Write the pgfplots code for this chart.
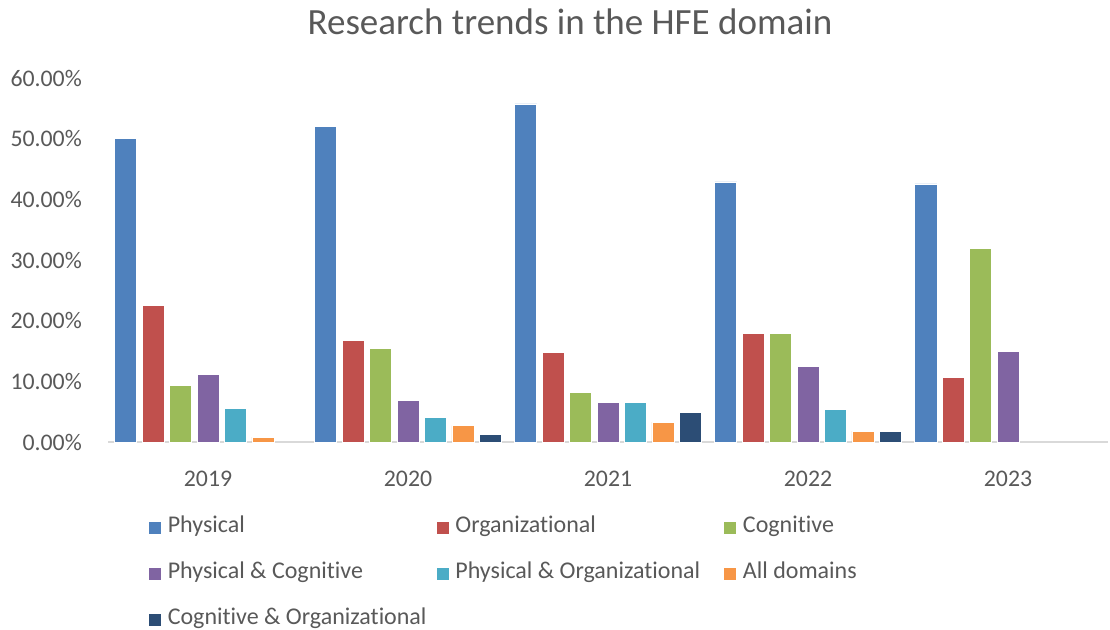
\documentclass[border=0pt]{standalone}
\usepackage{fontspec}
\setmainfont{Carlito}[Ligatures={NoCommon}]
\usepackage{pgfplots}
\pgfplotsset{compat=1.18}
\definecolor{c1}{HTML}{4F81BD}
\definecolor{c2}{HTML}{C0504D}
\definecolor{c3}{HTML}{9BBB59}
\definecolor{c4}{HTML}{8064A2}
\definecolor{c5}{HTML}{4BACC6}
\definecolor{c6}{HTML}{F79646}
\definecolor{c7}{HTML}{2C4D75}
\definecolor{txt}{HTML}{595959}
\definecolor{axl}{HTML}{D9D9D9}
\newcommand{\lt}[1]{\hspace{6pt}\makebox[268pt][l]{#1}}
\begin{document}
\begin{tikzpicture}[x=1pt,y=1pt]
\useasboundingbox (0,0) rectangle (1110,629);
\begin{axis}[
  at={(108pt,187pt)}, anchor=south west,
  scale only axis, width=1000pt, height=364pt,
  xmin=-0.5, xmax=4.5, ymin=0, ymax=60,
  axis x line*=bottom, axis y line*=left,
  x axis line style={draw=axl, line width=1.5pt},
  y axis line style={draw=none},
  tick style={draw=none},
  ybar=5.4pt, bar width=22pt,
  xtick={0,1,2,3,4}, xticklabels={2019,2020,2021,2022,2023},
  ytick={0,10,20,30,40,50,60},
  yticklabels={0.00\%,10.00\%,20.00\%,30.00\%,40.00\%,50.00\%,60.00\%},
  tick label style={font=\fontsize{23.8}{28}\selectfont, text=txt},
  yticklabel style={anchor=east, inner sep=0pt, xshift=-26pt},
  xticklabel style={anchor=center, inner sep=0pt, yshift=-33pt},
  clip=false,
  every axis plot/.append style={draw=white, line width=0.6pt},
  legend columns=3,
  legend style={at={(rel axis cs:0.04,-0.205)}, anchor=north west, draw=none,
    font=\fontsize{24}{28}\selectfont, text=txt, inner sep=0pt,
    nodes={inner sep=0pt, text height=16pt, text depth=5pt},
    row sep=25pt, column sep=0pt},
  legend image code/.code={\fill[#1] (0pt,-6.5pt) rectangle (13pt,6.5pt);},
]
\addplot[fill=c1] coordinates {(0,50.0) (1,52.0) (2,55.74) (3,42.86) (4,42.55)};
\addplot[fill=c2] coordinates {(0,22.5) (1,16.8) (2,14.75) (3,17.86) (4,10.64)};
\addplot[fill=c3] coordinates {(0,9.3) (1,15.4) (2,8.2) (3,17.86) (4,31.91)};
\addplot[fill=c4] coordinates {(0,11.2) (1,6.9) (2,6.56) (3,12.5) (4,14.89)};
\addplot[fill=c5] coordinates {(0,5.55) (1,4.1) (2,6.56) (3,5.36)};
\addplot[fill=c6] coordinates {(0,0.8) (1,2.7) (2,3.28) (3,1.79)};
\addplot[fill=c7] coordinates {(1,1.3) (2,4.92) (3,1.79)};
\legend{\lt{Physical},\lt{Organizational},\lt{Cognitive},\lt{Physical \& Cognitive},\lt{Physical \& Organizational},\lt{All domains},\lt{Cognitive \& Organizational}}
\node[font=\fontsize{37}{44}\selectfont, text=txt] at (rel axis cs:0.462,1) [yshift=56pt] {Research trends in the HFE domain};
\end{axis}
\end{tikzpicture}
\end{document}
